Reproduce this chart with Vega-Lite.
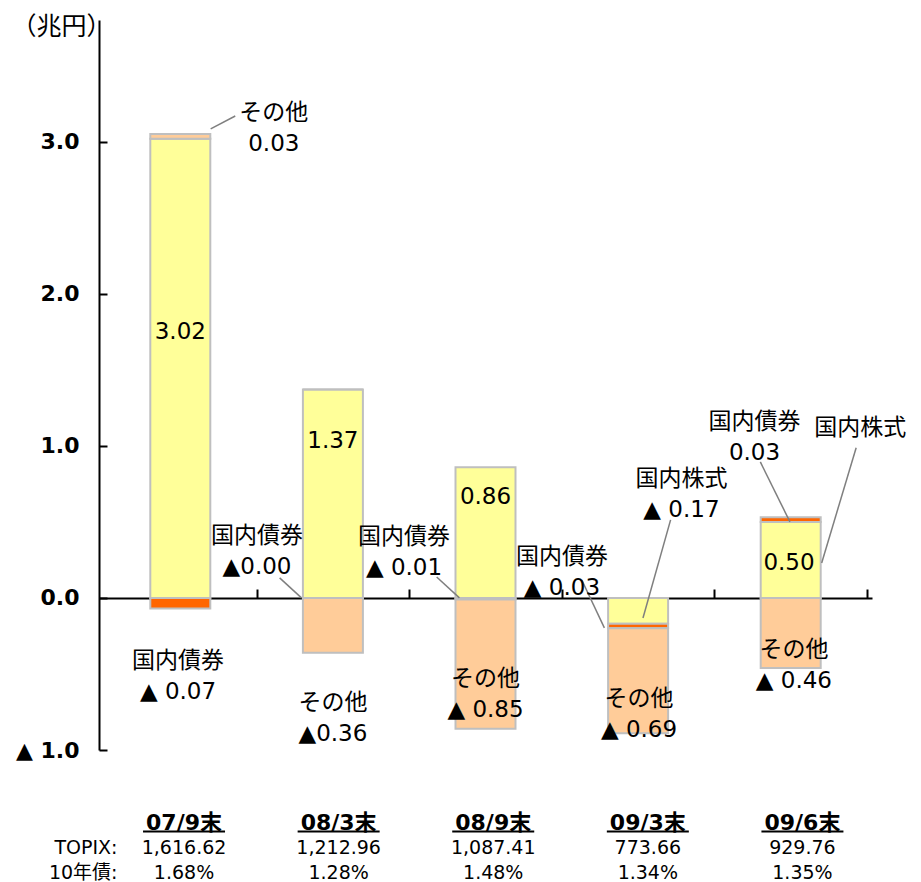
{
  "$schema": "https://vega.github.io/schema/vega-lite/v6.json",
  "padding": {"left": 10, "top": 14, "right": 2, "bottom": 0},
  "background": "white",
  "bounds": "flush",
  "spacing": 60,
  "config": {"view": {"stroke": null}, "axis": {"grid": false}},
  "datasets": {
    "bars": [
      {"period": "07/9末", "i": 0, "asset": "国内株式", "ord": 1, "value": 3.02},
      {"period": "07/9末", "i": 0, "asset": "国内債券", "ord": 2, "value": -0.07},
      {"period": "07/9末", "i": 0, "asset": "その他", "ord": 3, "value": 0.03},
      {"period": "08/3末", "i": 1, "asset": "国内株式", "ord": 1, "value": 1.37},
      {"period": "08/3末", "i": 1, "asset": "国内債券", "ord": 2, "value": 0.0},
      {"period": "08/3末", "i": 1, "asset": "その他", "ord": 3, "value": -0.36},
      {"period": "08/9末", "i": 2, "asset": "国内株式", "ord": 1, "value": 0.86},
      {"period": "08/9末", "i": 2, "asset": "国内債券", "ord": 2, "value": -0.01},
      {"period": "08/9末", "i": 2, "asset": "その他", "ord": 3, "value": -0.85},
      {"period": "09/3末", "i": 3, "asset": "国内株式", "ord": 1, "value": -0.17},
      {"period": "09/3末", "i": 3, "asset": "国内債券", "ord": 2, "value": -0.03},
      {"period": "09/3末", "i": 3, "asset": "その他", "ord": 3, "value": -0.69},
      {"period": "09/6末", "i": 4, "asset": "国内株式", "ord": 1, "value": 0.50},
      {"period": "09/6末", "i": 4, "asset": "国内債券", "ord": 2, "value": 0.03},
      {"period": "09/6末", "i": 4, "asset": "その他", "ord": 3, "value": -0.46}
    ],
    "leaders": [
      {"x": 0.360, "y": 3.169, "x2": 0.199, "y2": 3.084},
      {"x": 0.651, "y": 0.132, "x2": 0.794, "y2": 0.0},
      {"x": 1.680, "y": 0.138, "x2": 1.829, "y2": 0.0},
      {"x": 2.631, "y": 0.118, "x2": 2.779, "y2": -0.197},
      {"x": 3.213, "y": 0.513, "x2": 3.032, "y2": -0.132},
      {"x": 3.801, "y": 0.894, "x2": 3.995, "y2": 0.500},
      {"x": 4.429, "y": 0.987, "x2": 4.203, "y2": 0.230}
    ],
    "labels": [
      {"x": 0.613, "y": 3.189, "label": "その他\n0.03"},
      {"x": 0.0, "y": 1.749, "label": "3.02"},
      {"x": -0.015, "y": -0.418, "label": "国内債券\n▲ 0.07"},
      {"x": 1.0, "y": 1.032, "label": "1.37"},
      {"x": 0.503, "y": 0.404, "label": "国内債券\n▲0.00"},
      {"x": 1.0, "y": -0.690, "label": "その他\n▲0.36"},
      {"x": 2.0, "y": 0.664, "label": "0.86"},
      {"x": 1.466, "y": 0.400, "label": "国内債券\n▲ 0.01"},
      {"x": 2.0, "y": -0.536, "label": "その他\n▲ 0.85"},
      {"x": 2.501, "y": 0.270, "label": "国内債券\n▲ 0.03"},
      {"x": 3.284, "y": 0.779, "label": "国内株式\n▲ 0.17"},
      {"x": 3.006, "y": -0.664, "label": "その他\n▲ 0.69"},
      {"x": 3.763, "y": 1.155, "label": "国内債券\n0.03"},
      {"x": 4.455, "y": 1.115, "label": "国内株式"},
      {"x": 3.989, "y": 0.230, "label": "0.50"},
      {"x": 4.021, "y": -0.342, "label": "その他\n▲ 0.46"}
    ],
    "footer": [
      {"i": 0, "row": "cat", "text": "07/9末"},
      {"i": 0, "row": "TOPIX:", "text": "1,616.62"},
      {"i": 0, "row": "10年債:", "text": "1.68%"},
      {"i": 1, "row": "cat", "text": "08/3末"},
      {"i": 1, "row": "TOPIX:", "text": "1,212.96"},
      {"i": 1, "row": "10年債:", "text": "1.28%"},
      {"i": 2, "row": "cat", "text": "08/9末"},
      {"i": 2, "row": "TOPIX:", "text": "1,087.41"},
      {"i": 2, "row": "10年債:", "text": "1.48%"},
      {"i": 3, "row": "cat", "text": "09/3末"},
      {"i": 3, "row": "TOPIX:", "text": "773.66"},
      {"i": 3, "row": "10年債:", "text": "1.34%"},
      {"i": 4, "row": "cat", "text": "09/6末"},
      {"i": 4, "row": "TOPIX:", "text": "929.76"},
      {"i": 4, "row": "10年債:", "text": "1.35%"}
    ]
  },
  "vconcat": [
    {
      "width": 773,
      "height": 730,
      "layer": [
        {
          "data": {"name": "bars"},
          "mark": {"type": "bar", "width": 60, "stroke": "#BFBFBF", "strokeWidth": 2},
          "encoding": {
            "x": {"field": "i", "type": "quantitative", "title": null,
              "scale": {"domain": [-0.5, 4.5], "nice": false, "zero": false},
              "axis": {"values": [0.5, 1.5, 2.5, 3.5, 4.5], "labels": false, "tickSize": -9, "tickWidth": 2, "tickColor": "black", "domainColor": "black", "domainWidth": 2, "offset": -152, "grid": false, "title": null}},
            "y": {"field": "value", "type": "quantitative", "stack": "zero",
              "scale": {"domain": [-1, 3.8], "nice": false},
              "axis": {"values": [-1, 0, 1, 2, 3], "labelExpr": "datum.value < 0 ? '▲ ' + format(-datum.value, '.1f') : format(datum.value, '.1f')", "labelFont": "DejaVu Sans", "labelFontWeight": "bold", "labelFontSize": 22, "labelColor": "black", "labelPadding": 28, "tickSize": -8, "tickWidth": 2, "tickColor": "black", "domainColor": "black", "domainWidth": 2, "grid": false, "title": "（兆円）", "titleAngle": 0, "titleX": -38, "titleY": 6, "titleAlign": "center", "titleBaseline": "middle", "titleFont": "Noto Sans CJK JP", "titleFontSize": 25, "titleFontWeight": "normal", "titleColor": "black"}},
            "color": {"field": "asset", "type": "nominal", "legend": null,
              "scale": {"domain": ["国内株式", "国内債券", "その他"], "range": ["#FFFF99", "#FF6600", "#FFCC99"]}},
            "order": {"field": "ord", "type": "quantitative"}
          }
        },
        {
          "data": {"name": "leaders"},
          "mark": {"type": "rule", "color": "#7F7F7F", "strokeWidth": 1.5},
          "encoding": {
            "x": {"field": "x", "type": "quantitative", "scale": {"domain": [-0.5, 4.5], "nice": false, "zero": false}},
            "y": {"field": "y", "type": "quantitative", "scale": {"domain": [-1, 3.8], "nice": false}},
            "x2": {"field": "x2"},
            "y2": {"field": "y2"}
          }
        },
        {
          "data": {"name": "labels"},
          "mark": {"type": "text", "font": "DejaVu Sans, Noto Sans CJK JP", "fontSize": 23, "lineBreak": "\n", "lineHeight": 31, "align": "center", "baseline": "middle", "color": "black"},
          "encoding": {
            "x": {"field": "x", "type": "quantitative", "scale": {"domain": [-0.5, 4.5], "nice": false, "zero": false}},
            "y": {"field": "y", "type": "quantitative", "scale": {"domain": [-1, 3.8], "nice": false}},
            "text": {"field": "label"}
          }
        }
      ]
    },
    {
      "width": 773,
      "height": 75,
      "data": {"name": "footer"},
      "encoding": {
        "x": {"field": "i", "type": "quantitative", "scale": {"domain": [-0.55, 4.45], "nice": false, "zero": false}, "axis": null},
        "y": {"field": "row", "type": "nominal", "title": null,
          "scale": {"domain": ["cat", "TOPIX:", "10年債:"], "paddingInner": 0, "paddingOuter": 0},
          "axis": {"labelExpr": "datum.value == 'cat' ? '' : datum.value", "domain": false, "ticks": false, "labelAlign": "right", "labelPadding": -18, "labelFont": "DejaVu Sans, Noto Sans CJK JP", "labelFontSize": 19, "labelColor": "black", "title": null}}
      },
      "layer": [
        {
          "transform": [{"filter": "datum.row != 'cat'"}],
          "mark": {"type": "text", "font": "DejaVu Sans, Noto Sans CJK JP", "fontSize": 19, "align": "center", "baseline": "middle", "color": "black"},
          "encoding": {"text": {"field": "text"}}
        },
        {
          "transform": [{"filter": "datum.row == 'cat'"}],
          "mark": {"type": "text", "font": "DejaVu Sans, Noto Sans CJK JP", "fontSize": 22, "fontWeight": "bold", "align": "center", "baseline": "middle", "color": "black"},
          "encoding": {"text": {"field": "text"}}
        },
        {
          "transform": [{"filter": "datum.row == 'cat'"}],
          "mark": {"type": "tick", "orient": "horizontal", "size": 82, "thickness": 2, "yOffset": 9, "color": "black", "opacity": 1},
          "encoding": {}
        }
      ]
    }
  ]
}
